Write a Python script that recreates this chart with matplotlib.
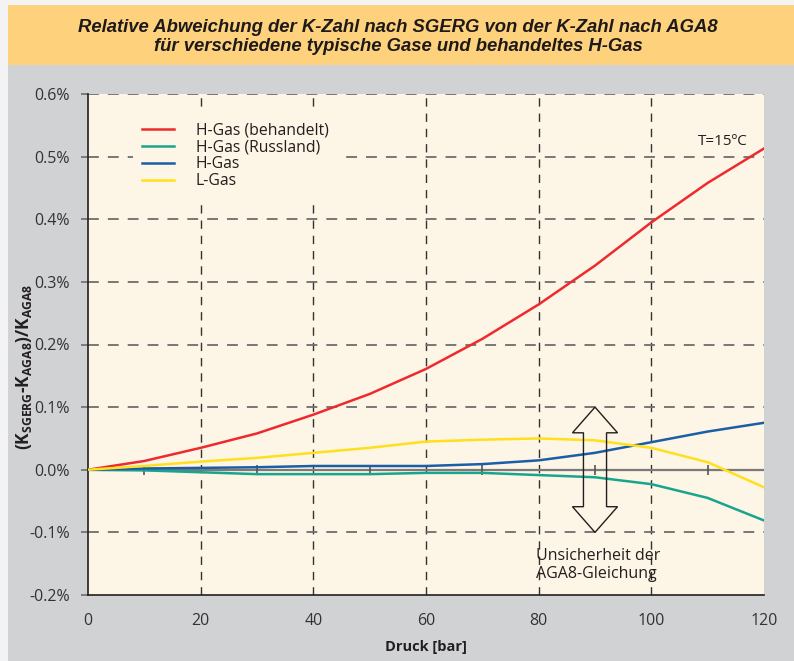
import matplotlib
matplotlib.use('Agg')
import matplotlib.pyplot as plt
from matplotlib.patches import Polygon, Rectangle
import numpy as np

plt.rcParams['font.family'] = ['Open Sans', 'DejaVu Sans']
plt.rcParams['mathtext.fontset'] = 'custom'
plt.rcParams['mathtext.rm'] = 'Open Sans:bold'
plt.rcParams['mathtext.bf'] = 'Open Sans:bold'

## data (values in %)
druck = [0, 10, 20, 30, 40, 50, 60, 70, 80, 90, 100, 110, 120]
h_gas_behandelt = [0.0, 0.014, 0.035, 0.058, 0.088, 0.121, 0.161, 0.209, 0.264, 0.326, 0.395, 0.458, 0.513]
h_gas_russland = [0.0, -0.001, -0.004, -0.007, -0.007, -0.007, -0.005, -0.005, -0.0085, -0.012, -0.023, -0.045, -0.081]
h_gas = [0.0, 0.002, 0.003, 0.004, 0.006, 0.006, 0.006, 0.009, 0.015, 0.027, 0.044, 0.061, 0.075]
l_gas = [0.0, 0.006, 0.013, 0.019, 0.027, 0.035, 0.045, 0.048, 0.050, 0.047, 0.035, 0.012, -0.028]

series_names = ['H-Gas (behandelt)', 'H-Gas (Russland)', 'H-Gas', 'L-Gas']
series_colors = ['#ee2a2e', '#19a48e', '#1b5ea8', '#ffe01c']

x_ticks = [0, 20, 40, 60, 80, 100, 120]
y_ticks = [-0.2, -0.1, 0.0, 0.1, 0.2, 0.3, 0.4, 0.5, 0.6]
minor_x = [10, 30, 50, 70, 90, 110]

# uncertainty band of AGA8
arrow_x = 90
arrow_half = 0.1

title = 'Relative Abweichung der K-Zahl nach SGERG von der K-Zahl nach AGA8\nfür verschiedene typische Gase und behandeltes H-Gas'

fig = plt.figure(figsize=(7.94, 6.61), dpi=100, facecolor='#f3f3f3')

# background panels
W, H = 794, 661
fig.patches.append(Rectangle((8 / W, 0), 1 - 8 / W, (H - 65) / H, transform=fig.transFigure,
                             facecolor='#d1d2d4', edgecolor='none', zorder=-5))
fig.patches.append(Rectangle((8 / W, (H - 65) / H), 1 - 8 / W, 60 / H, transform=fig.transFigure,
                             facecolor='#fed27c', edgecolor='none', zorder=-5))
fig.text(398 / W, 1 - 37 / H, title, ha='center', va='center', fontsize=13.3,
         fontweight='bold', fontstyle='italic', color='#1e1a1b', linespacing=1.2,
         family=['Liberation Sans', 'DejaVu Sans'])

ax = fig.add_axes([88 / W, 1 - 595 / H, (764 - 88) / W, (595 - 94) / H])
ax.set_facecolor('#fdf5e5')

ax.set_xlim(0, 120)
ax.set_ylim(-0.2, 0.6)

# grid
for v in x_ticks[1:-1]:
    ax.axvline(v, color='#333333', lw=1.0, ls=(0, (6, 5)), zorder=1)
for v in y_ticks[1:]:
    if v == 0.0:
        continue
    ax.axhline(v, color='#6d6d6d', lw=1.3, ls=(0, (6, 5)), zorder=1)
ax.axhline(0.0, color='#7a7a7a', lw=1.6, zorder=1.5)
ax.plot(minor_x, [0] * len(minor_x), ls='none', marker='|', ms=7, mew=1.2, color='#555555', zorder=1.6)

series = [h_gas_behandelt, h_gas_russland, h_gas, l_gas]
for vals, name, col in zip(series, series_names, series_colors):
    ax.plot(druck, vals, color=col, lw=1.8, label=name, zorder=3)

# double arrow (hollow)
sw = 2.05   # half shaft width in bar
hw = 4.0    # half head width in bar
hl = 0.041  # head length in %
ax_pts = [
    (arrow_x, arrow_half),
    (arrow_x + hw, arrow_half - hl),
    (arrow_x + sw, arrow_half - hl),
    (arrow_x + sw, -arrow_half + hl),
    (arrow_x + hw, -arrow_half + hl),
    (arrow_x, -arrow_half),
    (arrow_x - hw, -arrow_half + hl),
    (arrow_x - sw, -arrow_half + hl),
    (arrow_x - sw, arrow_half - hl),
    (arrow_x - hw, arrow_half - hl),
]
ax.add_patch(Polygon(ax_pts, closed=True, facecolor='none', edgecolor='#231f20', lw=1.0, zorder=4))

ax.text(79.6, -0.125, 'Unsicherheit der\nAGA8-Gleichung', ha='left', va='top', fontsize=11.5,
        color='#231f20', linespacing=1.2)
ax.text(108.2, 0.524, 'T=15ºC', ha='left', va='center', fontsize=11, color='#231f20')

leg = ax.legend(loc='upper left', bbox_to_anchor=(0.055, 0.977), frameon=True, fontsize=11.3,
                handlelength=2.0, handletextpad=1.4, labelspacing=0.05, borderpad=0.6)
leg.get_frame().set_facecolor('#fdf5e5')
leg.get_frame().set_edgecolor('none')
leg.get_frame().set_alpha(1)
for t in leg.get_texts():
    t.set_color('#231f20')

for s in ['top', 'right']:
    ax.spines[s].set_visible(False)
ax.spines['left'].set_color('#231f20')
ax.spines['bottom'].set_color('#231f20')
ax.spines['left'].set_linewidth(1.2)
ax.spines['bottom'].set_linewidth(1.2)

ax.set_xticks(x_ticks)
ax.set_xticklabels([str(v) for v in x_ticks])
ax.set_yticks(y_ticks)
ax.set_yticklabels(['%.1f%%' % v for v in y_ticks])
ax.tick_params(axis='x', length=0, pad=13, labelsize=11.5, colors='#333333')
ax.tick_params(axis='y', length=5, width=1.2, color='#6d6d6d', pad=8, labelsize=11.5, labelcolor='#333333')

ax.set_xlabel('Druck [bar]', fontsize=10.5, fontweight='bold', color='#231f20', labelpad=8)
fig.text(24 / W, 1 - 367 / H, r'(K$_{\mathrm{SGERG}}$-K$_{\mathrm{AGA8}}$)/K$_{\mathrm{AGA8}}$',
         rotation=90, ha='center', va='center', fontsize=12.5, fontweight='bold', color='#231f20')

fig.savefig('out.png', dpi=100, facecolor=fig.get_facecolor())
